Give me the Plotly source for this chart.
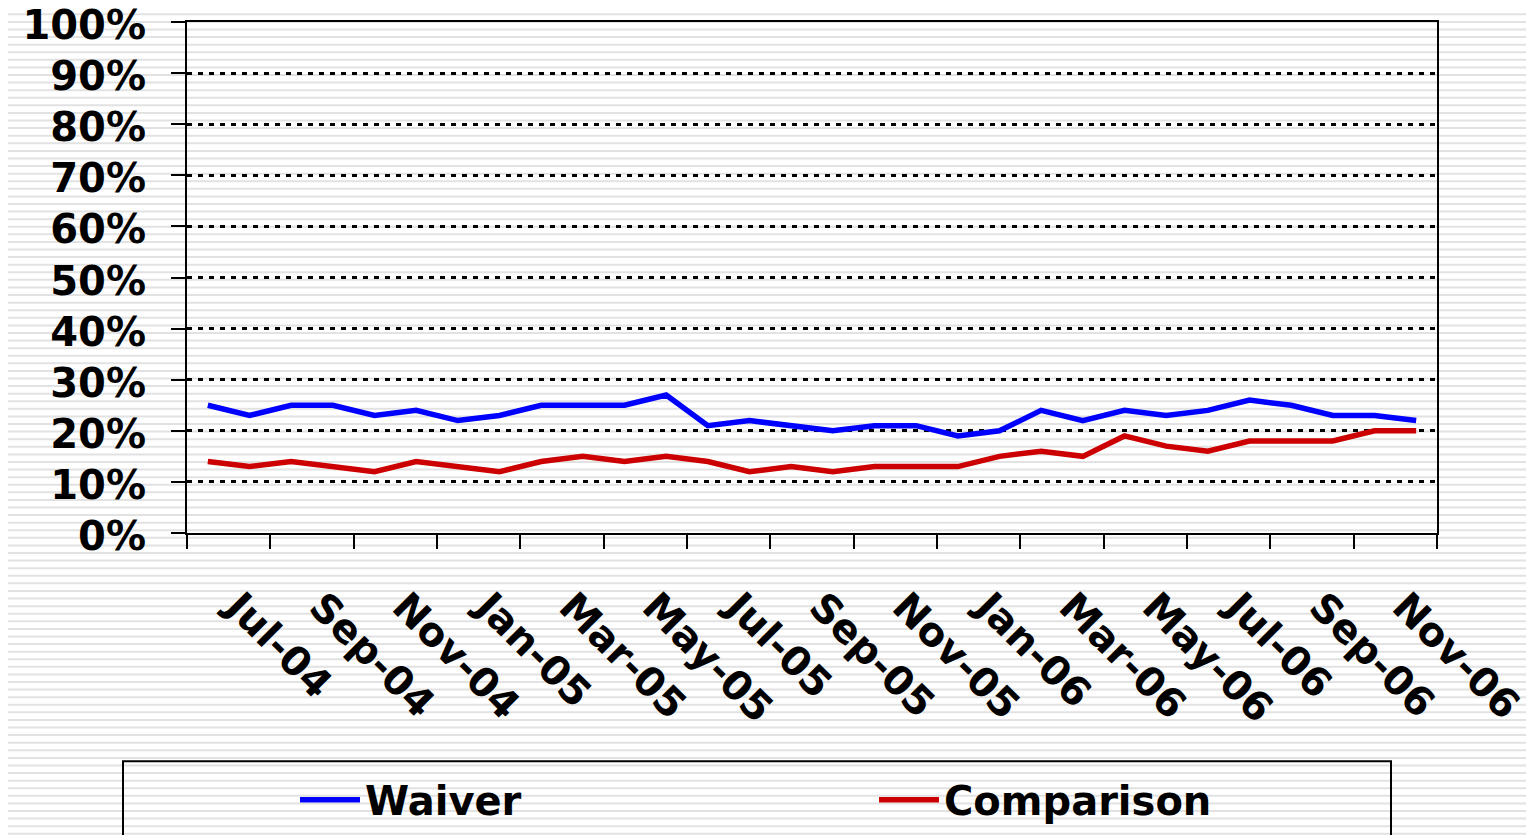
import plotly.graph_objects as go

months = ["Jul-04", "Aug-04", "Sep-04", "Oct-04", "Nov-04", "Dec-04",
          "Jan-05", "Feb-05", "Mar-05", "Apr-05", "May-05", "Jun-05",
          "Jul-05", "Aug-05", "Sep-05", "Oct-05", "Nov-05", "Dec-05",
          "Jan-06", "Feb-06", "Mar-06", "Apr-06", "May-06", "Jun-06",
          "Jul-06", "Aug-06", "Sep-06", "Oct-06", "Nov-06", "Dec-06"]
waiver = [25, 23, 25, 25, 23, 24, 22, 23, 25, 25, 25, 27, 21, 22, 21,
          20, 21, 21, 19, 20, 24, 22, 24, 23, 24, 26, 25, 23, 23, 22]
comparison = [14, 13, 14, 13, 12, 14, 13, 12, 14, 15, 14, 15, 14, 12, 13,
              12, 13, 13, 13, 15, 16, 15, 19, 17, 16, 18, 18, 18, 20, 20]
y_ticks = list(range(0, 101, 10))

W, H = 1534, 835
OFF = 8  # page body margin
# plot area in page pixels
X0, X1, Y0, Y1 = 187, 1437, 22, 533.5
L, T = X0 - OFF, Y0 - OFF
R, B = W - (X1 - OFF), H - (Y1 - OFF)
pw, ph = X1 - X0, Y1 - Y0


def px(x):
    return (x - X0) / pw


def py(y):
    return (Y1 - y) / ph


idx = list(range(len(months)))
font = dict(family="DejaVu Sans, Verdana, sans-serif", size=40, color="black", weight="bold")

fig = go.Figure()
fig.add_trace(go.Scatter(x=idx, y=waiver, name="Waiver", mode="lines",
                         line=dict(color="#0000ff", width=5.5)))
fig.add_trace(go.Scatter(x=idx, y=comparison, name="Comparison", mode="lines",
                         line=dict(color="#cc0000", width=5.5)))

# striped slide background
segs = []
y = 6.7
while y < H + 10:
    segs.append(f"M{px(-20):.5f},{py(y):.5f} H{px(W + 20):.5f}")
    y += 7.595
fig.add_shape(type="path", path=" ".join(segs), xref="paper", yref="paper",
              line=dict(color="#e2e2e2", width=2), layer="below")

# legend frame
fig.add_shape(type="rect", xref="paper", yref="paper",
              x0=px(123), x1=px(1391), y0=py(762), y1=py(850),
              line=dict(color="black", width=2))

fig.update_xaxes(range=[-0.5, len(months) - 0.5], tickmode="array",
                 tickvals=idx[::2], ticktext=months[::2], tickangle=45,
                 ticks="", ticklabelstandoff=32, ticklabelshift=30, tickfont=font,
                 showline=True, linecolor="black", linewidth=2, mirror=True,
                 showgrid=False, zeroline=False, automargin=False,
                 minor=dict(tickmode="array",
                            tickvals=[i - 0.5 for i in range(0, len(months) + 1, 2)],
                            ticks="outside", ticklen=14, tickwidth=2,
                            tickcolor="black", showgrid=False))
fig.update_yaxes(range=[0, 100], tickmode="array", tickvals=y_ticks,
                 ticktext=[f"{v}%" for v in y_ticks], tickfont=font,
                 ticks="outside", ticklen=14, tickwidth=2, tickcolor="black",
                 ticklabelstandoff=17, ticklabelshift=3, ticklabeloverflow="allow",
                 showline=True, linecolor="black", linewidth=2, mirror=True,
                 showgrid=True, gridcolor="black", gridwidth=2.5, griddash="5px,6px",
                 zeroline=False, automargin=False)

fig.update_layout(
    width=W, height=H,
    margin=dict(l=L, r=R, t=T, b=B, autoexpand=False),
    paper_bgcolor="white", plot_bgcolor="rgba(0,0,0,0)",
    font=font,
    showlegend=True,
    legend=dict(orientation="h", x=px(295), xanchor="left",
                y=py(768), yanchor="top",
                bgcolor="rgba(0,0,0,0)", font=font,
                entrywidth=504, entrywidthmode="pixels", itemwidth=60),
)

fig.write_html("out.html")
